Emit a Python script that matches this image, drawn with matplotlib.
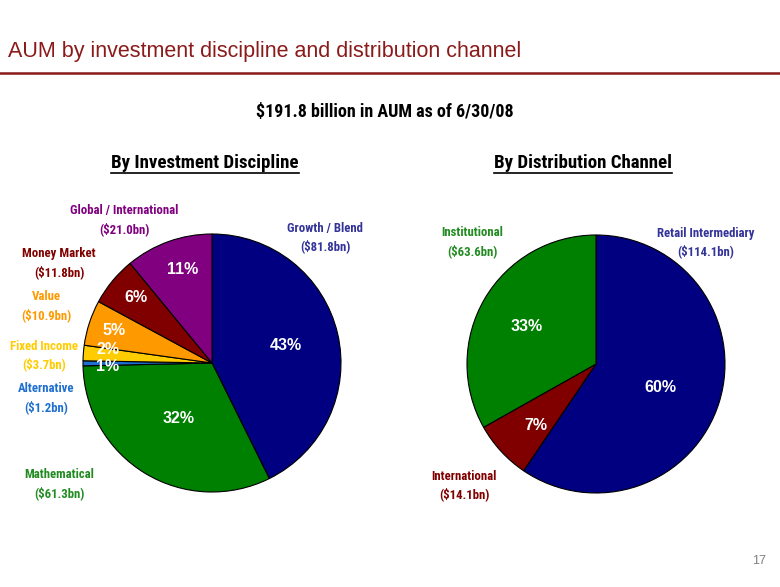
import matplotlib
matplotlib.use("Agg")
import matplotlib.pyplot as plt
from matplotlib.lines import Line2D
import numpy as np

NARROW = ['Roboto Condensed', 'Liberation Sans', 'DejaVu Sans']
WIDE = ['Liberation Sans', 'DejaVu Sans']
plt.rcParams['font.family'] = NARROW

### data
disc_names = ['Growth / Blend', 'Mathematical', 'Alternative', 'Fixed Income',
              'Value', 'Money Market', 'Global / International']
disc_aum = [81.8, 61.3, 1.2, 3.7, 10.9, 11.8, 21.0]
disc_pct = ['43%', '32%', '1%', '2%', '5%', '6%', '11%']

chan_names = ['Retail Intermediary', 'International', 'Institutional']
chan_aum = [114.1, 14.1, 63.6]
chan_pct = ['60%', '7%', '33%']

### styles
disc_colors = ['#000080', '#008000', '#1F6FD0', '#FFCC00', '#FF9900', '#800000', '#800080']
disc_text_colors = ['#333399', '#228B22', '#1F6FD0', '#FFCC00', '#FF9900', '#800000', '#800080']
disc_pct_r = [0.59, 0.50, 0.81, 0.81, 0.80, 0.78, 0.76]
disc_pct_dang = [0, 0, 2, -3, 0, -1, -2]
# outer label centres in pixels
disc_lab_xy = [(325, 228), (59, 475), (46, 389), (44, 346), (46, 297), (59, 254), (124, 211)]

chan_colors = ['#000080', '#800000', '#008000']
chan_text_colors = ['#333399', '#800000', '#228B22']
chan_pct_r = [0.53, 0.67, 0.61]
chan_pct_dang = [-3, 3, 2]
chan_lab_xy = [(706, 233), (464, 476), (472, 233)]

W, H = 780, 587
fig = plt.figure(figsize=(W / 100, H / 100), dpi=100)


def fx(x):
    return x / W


def fy(y):
    return 1 - y / H


def draw_pie(cx, cy, r, vals, colors, pcts, radii, dang):
    ax = fig.add_axes([fx(cx - r), fy(cy + r), 2 * r / W, 2 * r / H])
    wedges, _ = ax.pie(vals, colors=colors, startangle=90, counterclock=False,
                       wedgeprops=dict(edgecolor='black', linewidth=0.8))
    ax.set_xlim(-1, 1)
    ax.set_ylim(-1, 1)
    ax.set_aspect('equal')
    ax.axis('off')
    for w, p, rr, da in zip(wedges, pcts, radii, dang):
        ang = np.deg2rad((w.theta1 + w.theta2) / 2 + da)
        ax.text(rr * np.cos(ang), rr * np.sin(ang), p, color='white', fontsize=11.5,
                fontweight='bold', ha='center', va='center', family=WIDE)
    return ax


draw_pie(212, 363, 129, disc_aum, disc_colors, disc_pct, disc_pct_r, disc_pct_dang)
draw_pie(596, 364, 129, chan_aum, chan_colors, chan_pct, chan_pct_r, chan_pct_dang)

for name, val, col, (x, y) in zip(disc_names + chan_names, disc_aum + chan_aum,
                                   disc_text_colors + chan_text_colors, disc_lab_xy + chan_lab_xy):
    fig.text(fx(x), fy(y), name, color=col, fontsize=9.2, fontweight='bold', ha='center',
             va='center')
    fig.text(fx(x), fy(y + 18.5), f'(${val:.1f}bn)', color=col, fontsize=9.2, fontweight='bold',
             ha='center', va='center')

### title and rule
fig.text(fx(8), fy(52), 'AUM by investment discipline and distribution channel', color='#8B1A1A',
         fontsize=15.5, ha='left', va='center', family=WIDE)
fig.add_artist(Line2D([0, 1], [fy(73), fy(73)], color='#8B1A1A', linewidth=1.8))

fig.text(fx(385), fy(112), '$191.8 billion in AUM as of 6/30/08', fontsize=13, fontweight='bold',
         ha='center', va='center')

heads = []
for x, s in [(205, 'By Investment Discipline'), (583, 'By Distribution Channel')]:
    heads.append(fig.text(fx(x), fy(163), s, fontsize=13.6, fontweight='bold', ha='center',
                          va='center'))

fig.text(fx(766), fy(561), '17', color='#808080', fontsize=9, ha='right', va='center',
         family=WIDE)

### underline headings
fig.canvas.draw()
rend = fig.canvas.get_renderer()
for t in heads:
    bb = t.get_window_extent(rend)
    yl = bb.y0 - 1
    fig.add_artist(Line2D([bb.x0 / W, bb.x1 / W], [yl / H, yl / H], color='black', linewidth=1.2))

fig.savefig('out.png', dpi=100)
